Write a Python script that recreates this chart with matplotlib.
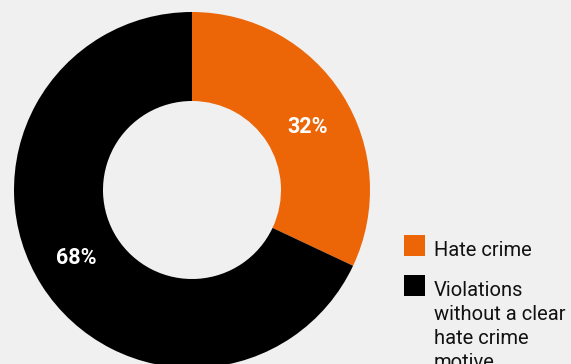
import numpy as np
import matplotlib.pyplot as plt
from matplotlib.patches import Rectangle

# data
labels = ['Hate crime', 'Violations\nwithout a clear\nhate crime\nmotive']
shares = [32, 68]
colors = ['#ec6608', '#000000']
bg = '#f0f0f0'

plt.rcParams['font.family'] = ['Roboto', 'DejaVu Sans']

W, H = 571, 364
fig = plt.figure(figsize=(W / 100, H / 100), dpi=100, facecolor=bg)
# axes sized so the ring's outer radius is ~178 px, centred at (192, 190)
ax = fig.add_axes([14 / W, -4 / H, 356 / W, 356 / H])
ax.set_facecolor(bg)

wedges, texts, autotexts = ax.pie(
    shares, colors=colors, startangle=90, counterclock=False,
    radius=1, wedgeprops=dict(width=0.5, linewidth=0),
    autopct='%d%%', pctdistance=0.745,
)
for t in autotexts:
    # the original places the labels a few degrees clockwise of the wedge middle
    x, y = t.get_position()
    ang = np.arctan2(y, x) - np.radians(3)
    r = np.hypot(x, y)
    t.set_position((r * np.cos(ang), r * np.sin(ang)))
    t.set_color('white')
    t.set_fontsize(15.5)
    t.set_fontweight('bold')
    t.set_va('center_baseline')
ax.set_xlim(-1, 1)
ax.set_ylim(-1, 1)
ax.set_aspect('equal')
ax.axis('off')

# legend drawn by hand so the swatch lines up with the first text line
box_top = [235, 275]
for c, lab, top in zip(colors, labels, box_top):
    fig.patches.append(Rectangle((404 / W, 1 - (top + 21) / H), 21 / W, 21 / H,
                                 transform=fig.transFigure, facecolor=c,
                                 edgecolor='none'))
    for i, line in enumerate(lab.split('\n')):
        fig.text(434 / W, 1 - (top + 21 + 24 * i) / H, line, fontsize=14.5,
                 color='#111111', va='baseline', ha='left')

fig.savefig('out.png', dpi=100, facecolor=bg)
